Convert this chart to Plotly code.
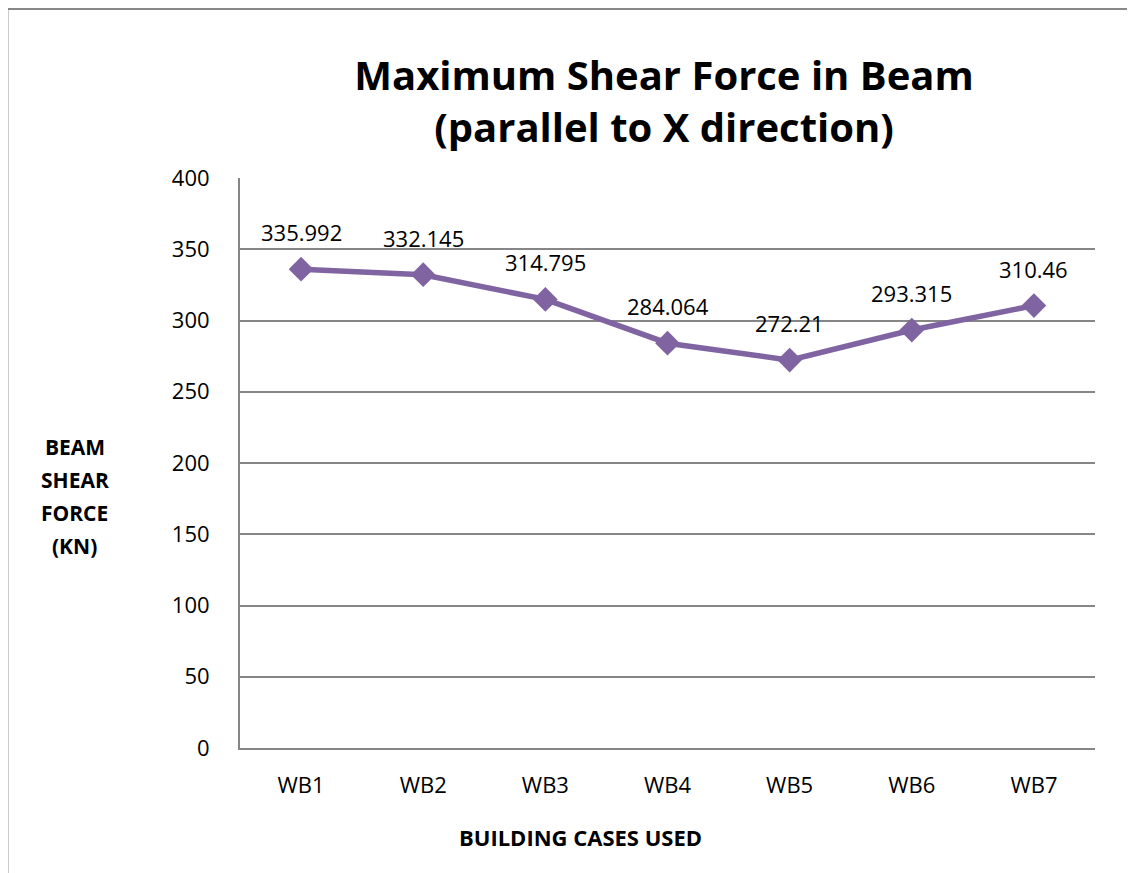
import plotly.graph_objects as go

categories = ["WB1", "WB2", "WB3", "WB4", "WB5", "WB6", "WB7"]
shear_force = [335.992, 332.145, 314.795, 284.064, 272.21, 293.315, 310.46]
value_labels = ["335.992", "332.145", "314.795", "284.064", "272.21", "293.315", "310.46"]
y_title_lines = ["BEAM", "SHEAR", "FORCE", "(KN)"]

purple = "#8064A2"
font_fam = "Open Sans, Liberation Sans, sans-serif"

fig = go.Figure()
fig.add_trace(go.Scatter(
    x=categories, y=shear_force, mode="lines+markers",
    line=dict(color=purple, width=5.5),
    marker=dict(symbol="diamond", size=19, color=purple),
    showlegend=False, hoverinfo="skip",
))

for c, v, t in zip(categories, shear_force, value_labels):
    fig.add_annotation(x=c, y=v, text=t, showarrow=False, yshift=37,
                       font=dict(size=22, color="#000000", family=font_fam))

for i, line in enumerate(y_title_lines):
    fig.add_annotation(xref="paper", yref="paper", x=-0.193, y=0.528 - i * 0.058,
                       text="<b>" + line + "</b>", showarrow=False, xanchor="center",
                       font=dict(size=21, color="#000000", family=font_fam))

fig.add_annotation(xref="paper", yref="paper", x=0.398, y=-0.186,
                   text="<b>BUILDING CASES USED</b>", showarrow=False,
                   font=dict(size=22, color="#000000", family=font_fam))

fig.add_shape(type="rect", xref="paper", yref="paper",
              x0=-0.272, x1=1.2, y0=-0.3, y1=1.2965,
              line=dict(color="#888888", width=2))

fig.update_layout(
    width=1135, height=873,
    margin=dict(l=232, r=48, t=170, b=133),
    paper_bgcolor="white", plot_bgcolor="white",
    title=dict(text="<b>Maximum Shear Force in Beam<br>(parallel to X direction)</b>",
               x=0.578, xanchor="center", y=0.906, yanchor="top",
               font=dict(size=40, color="#000000", family=font_fam)),
    xaxis=dict(type="category", range=[-0.5, 6.5], showgrid=False,
               showline=True, linecolor="#868686", linewidth=2,
               ticks="", ticklabelstandoff=17,
               tickfont=dict(size=22, color="#000000", family=font_fam)),
    yaxis=dict(range=[0, 400], dtick=50, showgrid=True, gridcolor="#868686", gridwidth=1.5,
               showline=True, linecolor="#868686", linewidth=2, zeroline=False,
               ticks="", ticklabelstandoff=24,
               tickfont=dict(size=22, color="#000000", family=font_fam)),
)

fig.write_html("out.html")
